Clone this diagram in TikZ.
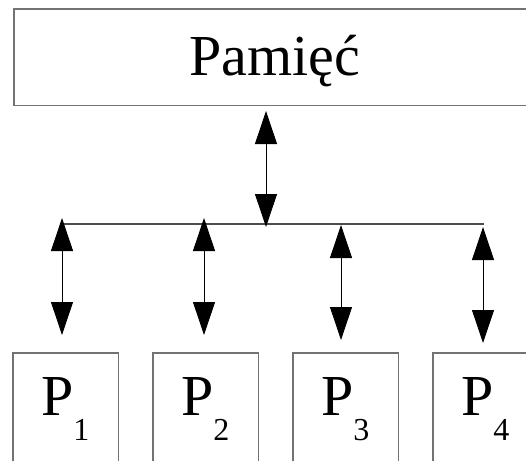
\documentclass[tikz,border=0pt]{standalone}
\usepackage{fontspec}
\setmainfont{Liberation Serif}
\usetikzlibrary{arrows.meta}
\tikzset{
  frame/.style={draw=black!55, line width=1.2pt},
  unitbox/.style={frame, inner sep=0pt},
  openbox/.style={inner sep=0pt},
  bus/.style={draw=black!70, line width=1.1pt},
  link/.style={draw=black, line width=0.9pt,
    {Triangle[width=22pt,length=33pt]}-{Triangle[width=22pt,length=33pt]}},
  proclabel/.style={anchor=base west, inner sep=0pt,
    font=\fontsize{58}{58}\selectfont}
}
\newcommand{\proc}[1]{P\raisebox{-25pt}{\fontsize{32}{32}\selectfont #1}}
\begin{document}
\begin{tikzpicture}[x=1pt,y=-1pt]
  \useasboundingbox (0,0) rectangle (526,460);

  % memory block (runs off the right edge)
  \node[openbox, minimum width=560pt, minimum height=96pt, anchor=north west] (mem) at (14,9) {};
  \draw[frame] (mem.north east) -- (mem.north west) -- (mem.south west) -- (mem.south east);
  \node[anchor=base, inner sep=0pt, font=\fontsize{58}{58}\selectfont] (memtxt) at (275,75) {Pamięć};

  % shared bus
  \coordinate (busL) at (63,224);
  \coordinate (busR) at (484,224);
  \draw[bus] (busL) -- (busR);

  % memory <-> bus
  \coordinate (mt) at (266,111);
  \coordinate (mb) at (266,227);
  \draw[link] (mt) -- (mb);

  % processors (boxes run off the bottom edge)
  \foreach \i/\x in {1/13, 2/153, 3/293} {
    \node[openbox, minimum width=105pt, minimum height=150pt, anchor=north west] (p\i) at (\x,353) {};
    \draw[frame] (p\i.south west) -- (p\i.north west) -- (p\i.north east) -- (p\i.south east);
  }
  \node[openbox, minimum width=140pt, minimum height=150pt, anchor=north west] (p4) at (433,353) {};
  \draw[frame] (p4.south west) -- (p4.north west) -- (p4.north east);

  \node[proclabel] (l1) at (41,415) {\proc{1}};
  \node[proclabel] (l2) at (181,415) {\proc{2}};
  \node[proclabel] (l3) at (321,415) {\proc{3}};
  \node[proclabel] (l4) at (461,415) {\proc{4}};

  % bus <-> processors
  \coordinate (t1) at (62,218);  \coordinate (b1) at (62,335);
  \coordinate (t2) at (204,218); \coordinate (b2) at (204,335);
  \coordinate (t3) at (341,225); \coordinate (b3) at (341,340);
  \coordinate (t4) at (483,227); \coordinate (b4) at (483,343);
  \foreach \i in {1,...,4} { \draw[link] (t\i) -- (b\i); }
\end{tikzpicture}
\end{document}
